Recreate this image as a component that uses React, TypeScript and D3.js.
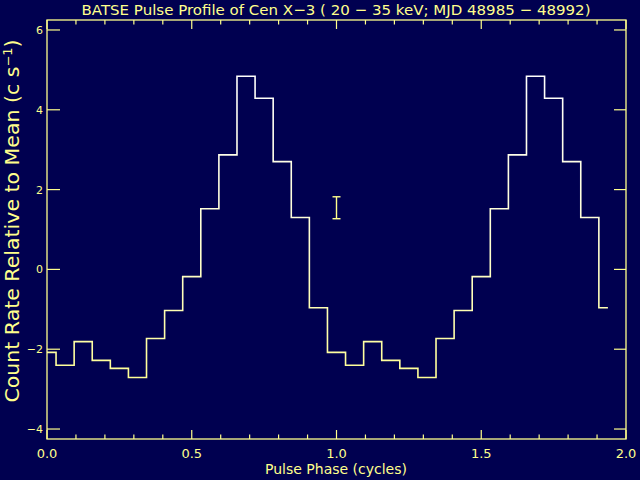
import React from "react";
import * as d3 from "d3";

const phases = [
  0, 0.0625, 0.125, 0.1875, 0.25, 0.3125, 0.375, 0.4375,
  0.5, 0.5625, 0.625, 0.6875, 0.75, 0.8125, 0.875, 0.9375,
  1.0, 1.0625, 1.125, 1.1875, 1.25, 1.3125, 1.375, 1.4375,
  1.5, 1.5625, 1.625, 1.6875, 1.75, 1.8125, 1.875, 1.9375,
];
const rates = [
  -2.08, -2.4, -1.81, -2.28, -2.48, -2.71, -1.73, -1.03,
  -0.18, 1.52, 2.87, 4.84, 4.29, 2.7, 1.3, -0.96,
  -2.08, -2.4, -1.81, -2.28, -2.48, -2.71, -1.73, -1.03,
  -0.18, 1.52, 2.87, 4.84, 4.29, 2.7, 1.3, -0.96,
];
const errPhase = [1.0];
const errLow = [1.27];
const errHigh = [1.82];
const xMajorTicks = [0, 0.5, 1.0, 1.5, 2.0];
const xMinorTicks = [0.1, 0.2, 0.3, 0.4, 0.6, 0.7, 0.8, 0.9, 1.1, 1.2, 1.3, 1.4, 1.6, 1.7, 1.8, 1.9];
const yMajorTicks = [-4, -2, 0, 2, 4, 6];
const titleText = "BATSE Pulse Profile of Cen X\u22123 ( 20 \u2212 35 keV; MJD 48985 \u2212 48992)";
const xLabel = "Pulse Phase (cycles)";

const BG = "#000050";
const AX = "#ffff8c";
const FONT = "'DejaVu Sans', sans-serif";

export default function App() {
  const left = 47, right = 626, top = 20, bottom = 439;
  const x = d3.scaleLinear().domain([0, 2]).range([left, right]);
  const y = d3.scaleLinear().domain([-4.25, 6.25]).range([bottom, top]);
  const line = d3
    .line<number>()
    .x((_, i) => x(phases[i]))
    .y((d) => y(d))
    .curve(d3.curveStep);
  const fmtY = (v: number) => (v < 0 ? "\u2212" + Math.abs(v) : String(v));

  return (
    <svg
      width={640}
      height={480}
      style={{ position: "fixed", left: 0, top: 0, display: "block" }}
      fontFamily={FONT}
    >
      <defs>
        <linearGradient id="lg" gradientUnits="userSpaceOnUse" x1={0} x2={0} y1={y(5)} y2={y(-3)}>
          <stop offset="0%" stopColor="#ffffff" />
          <stop offset="55%" stopColor="#ffffd0" />
          <stop offset="100%" stopColor="#ffff90" />
        </linearGradient>
      </defs>
      <rect x={0} y={0} width={640} height={480} fill={BG} />
      <text x={336} y={15} fill={AX} fontSize={14.5} textAnchor="middle" textLength={509} lengthAdjust="spacingAndGlyphs">
        {titleText}
      </text>
      {/* frame */}
      <rect x={left} y={top} width={right - left} height={bottom - top} fill="none" stroke={AX} strokeWidth={1.3} />
      {/* x ticks */}
      {xMajorTicks.map((t) => (
        <g key={"xm" + t}>
          <line x1={x(t)} x2={x(t)} y1={bottom} y2={bottom - 9} stroke={AX} strokeWidth={1.2} />
          <line x1={x(t)} x2={x(t)} y1={top} y2={top + 9} stroke={AX} strokeWidth={1.2} />
          <text x={x(t)} y={458} fill={AX} fontSize={13} textAnchor="middle">
            {t.toFixed(1)}
          </text>
        </g>
      ))}
      {xMinorTicks.map((t) => (
        <g key={"xn" + t}>
          <line x1={x(t)} x2={x(t)} y1={bottom} y2={bottom - 4.5} stroke={AX} strokeWidth={1.2} />
          <line x1={x(t)} x2={x(t)} y1={top} y2={top + 4.5} stroke={AX} strokeWidth={1.2} />
        </g>
      ))}
      {/* y ticks */}
      {yMajorTicks.map((t) => (
        <g key={"ym" + t}>
          <line x1={left} x2={left + 13} y1={y(t)} y2={y(t)} stroke={AX} strokeWidth={1.2} />
          <line x1={right} x2={right - 12} y1={y(t)} y2={y(t)} stroke={AX} strokeWidth={1.2} />
          <text x={43} y={y(t) + 4} fill={AX} fontSize={11} textAnchor="end">
            {fmtY(t)}
          </text>
        </g>
      ))}
      <text x={336} y={474} fill={AX} fontSize={14} textAnchor="middle">
        {xLabel}
      </text>
      <text
        transform={`translate(19,${221}) rotate(-90)`}
        fill={AX}
        fontSize={19}
        textAnchor="middle"
        textLength={363}
        lengthAdjust="spacingAndGlyphs"
      >
        Count Rate Relative to Mean (c s
        <tspan baselineShift="super" fontSize={12}>{"\u22121"}</tspan>
        <tspan>)</tspan>
      </text>
      {/* profile */}
      <path d={line(rates) || ""} fill="none" stroke="url(#lg)" strokeWidth={1.6} />
      {/* error bar */}
      {errPhase.map((p, i) => (
        <g key={"e" + i} stroke={AX} strokeWidth={1.4}>
          <line x1={x(p)} x2={x(p)} y1={y(errLow[i])} y2={y(errHigh[i])} />
          <line x1={x(p) - 4} x2={x(p) + 4} y1={y(errLow[i])} y2={y(errLow[i])} />
          <line x1={x(p) - 4} x2={x(p) + 4} y1={y(errHigh[i])} y2={y(errHigh[i])} />
        </g>
      ))}
    </svg>
  );
}
